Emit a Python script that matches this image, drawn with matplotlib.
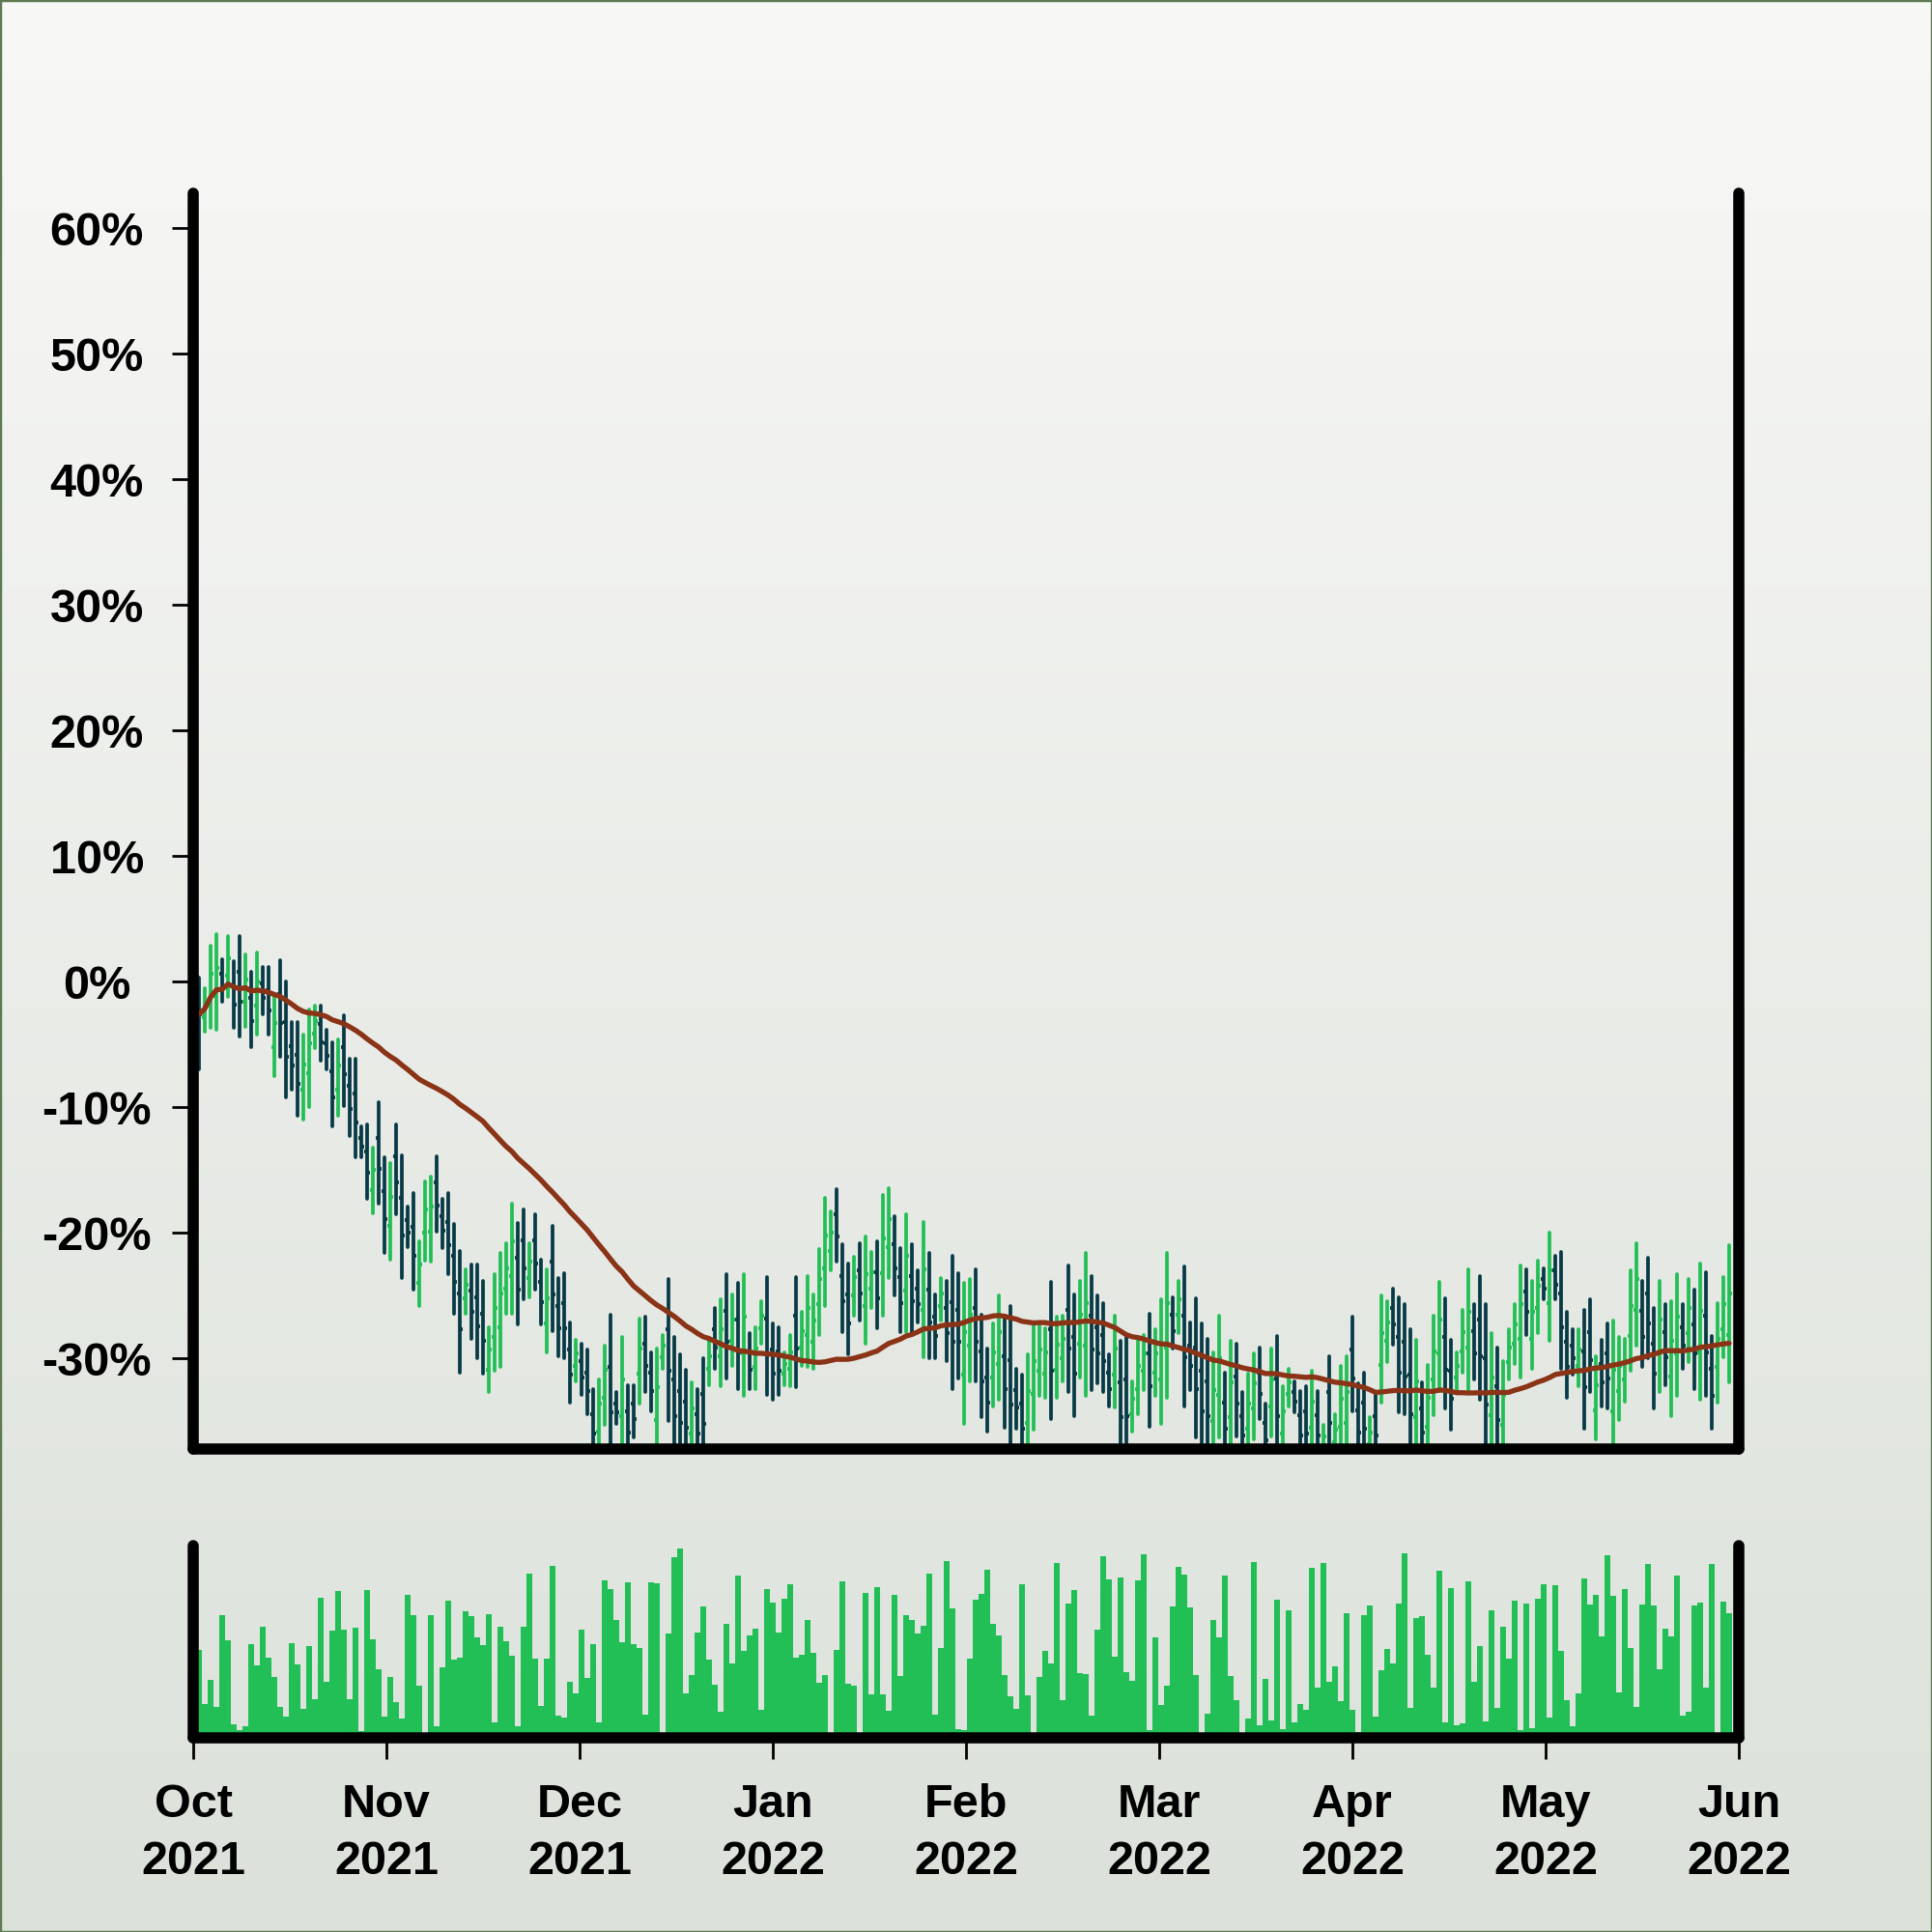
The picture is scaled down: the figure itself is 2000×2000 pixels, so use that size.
import matplotlib

matplotlib.use("Agg")
import matplotlib.pyplot as plt
import numpy as np
import pandas as pd
from matplotlib.patches import Rectangle

plt.rcParams["font.family"] = ["Liberation Sans", "DejaVu Sans"]
plt.rcParams["font.weight"] = "bold"

# ---------------------------------------------------------------------------
# data (percent change, one bar per session)
# ---------------------------------------------------------------------------
high = [0.3, -0.5, 2.9, 3.8, 1.8, 3.6, 1.6, 3.6, 2.2, 0.8, 2.3, 1.2, 1.2, -1.0, 1.7, 0.0, -3.2, -3.2, -4.2, -2.2,
        -1.9, -1.9, -3.8, -4.8, -4.6, -2.7, -6.1, -6.1, -11.5, -11.4, -13.2, -9.6, -14.0, -14.4, -11.4, -13.8, -17.9, -16.8, -20.7, -15.9,
        -15.5, -13.9, -17.3, -16.8, -19.3, -21.4, -22.9, -22.5, -22.5, -23.8, -27.5, -23.3, -21.6, -20.8, -17.7, -19.2, -18.1, -20.8, -18.5, -22.1,
        -22.9, -19.4, -23.6, -23.2, -27.1, -28.5, -28.8, -29.3, -32.4, -31.7, -29.0, -26.5, -32.7, -28.3, -32.1, -32.1, -26.8, -26.7, -29.5, -29.2,
        -28.1, -23.7, -28.3, -29.7, -30.9, -31.9, -32.4, -30.0, -28.5, -26.0, -25.3, -23.3, -24.9, -24.0, -23.3, -28.0, -27.5, -25.4, -23.5, -27.2,
        -27.5, -29.5, -28.1, -23.5, -26.3, -23.4, -24.9, -21.3, -17.2, -18.3, -16.5, -20.9, -22.4, -21.9, -20.8, -20.3, -21.5, -20.7, -17.0, -16.4,
        -18.7, -21.2, -18.5, -20.9, -23.0, -19.1, -21.6, -24.9, -23.6, -23.8, -21.8, -23.2, -24.0, -23.7, -22.9, -26.5, -29.2, -27.2, -25.0, -26.7,
        -25.8, -30.8, -31.3, -29.7, -27.3, -27.3, -27.6, -23.9, -26.7, -26.6, -22.6, -24.9, -23.8, -21.6, -23.4, -25.0, -25.6, -29.7, -26.6, -28.6,
        -28.3, -31.8, -28.6, -28.1, -26.4, -27.7, -25.3, -21.6, -25.1, -23.8, -22.7, -27.1, -25.2, -27.2, -28.4, -29.5, -26.6, -31.1, -28.6, -28.8,
        -32.7, -31.2, -29.6, -29.1, -33.6, -29.2, -28.2, -32.2, -30.8, -31.8, -32.6, -32.2, -31.0, -32.6, -35.3, -29.8, -34.4, -30.6, -29.8, -26.7,
        -32.0, -31.1, -34.7, -32.7, -25.0, -25.4, -24.4, -25.1, -25.7, -27.7, -28.5, -31.9, -30.5, -26.6, -23.9, -25.2, -28.5, -29.5, -26.1, -22.9,
        -25.7, -23.4, -25.7, -28.0, -29.1, -30.2, -27.7, -25.7, -22.6, -22.9, -23.8, -22.2, -22.8, -20.0, -21.8, -21.5, -26.3, -27.7, -27.7, -26.1,
        -25.3, -29.8, -28.5, -27.2, -27.0, -28.3, -28.4, -23.0, -20.8, -23.8, -22.0, -26.0, -23.8, -25.7, -25.4, -23.3, -25.7, -23.7, -24.5, -22.4,
        -23.1, -28.2, -25.6, -23.5, -21.0]
low = [-7.0, -4.0, -3.7, -3.8, -1.6, -1.2, -3.7, -4.4, -3.6, -5.2, -4.2, -2.6, -4.2, -7.5, -6.0, -9.2, -8.6, -10.7, -11.0, -10.0,
       -5.3, -6.3, -7.0, -11.5, -10.7, -9.9, -12.3, -14.0, -14.0, -17.3, -18.4, -17.7, -21.6, -22.1, -18.5, -23.6, -21.1, -24.5, -25.8, -22.2,
       -22.3, -19.9, -21.2, -23.3, -26.4, -31.1, -26.4, -28.4, -30.0, -31.2, -32.7, -31.0, -30.7, -26.4, -26.4, -27.3, -25.3, -25.1, -24.5, -27.3,
       -29.5, -27.8, -29.8, -30.0, -33.5, -31.8, -32.9, -34.4, -38.0, -38.0, -35.3, -38.5, -35.2, -38.0, -38.0, -36.3, -33.6, -32.7, -34.2, -38.0,
       -30.8, -35.0, -38.0, -38.0, -38.0, -38.0, -38.0, -38.0, -32.1, -30.8, -32.2, -31.6, -30.6, -32.4, -33.0, -32.4, -32.4, -28.8, -32.9, -33.3,
       -32.9, -32.1, -32.2, -32.3, -30.6, -30.7, -30.8, -28.1, -25.8, -23.0, -22.3, -27.9, -29.7, -26.6, -27.0, -28.8, -26.0, -27.6, -26.6, -23.6,
       -25.0, -27.9, -27.9, -27.9, -27.1, -29.9, -30.0, -30.0, -27.0, -30.2, -32.4, -31.6, -35.2, -31.8, -31.8, -34.7, -35.8, -33.8, -33.3, -35.5,
       -38.0, -35.6, -38.0, -38.0, -35.7, -33.0, -33.1, -34.8, -33.1, -31.8, -32.7, -34.6, -31.5, -33.0, -32.5, -32.0, -32.7, -33.8, -33.9, -38.0,
       -38.0, -35.8, -34.4, -32.5, -35.4, -33.0, -35.2, -33.1, -29.2, -28.0, -33.8, -32.5, -36.3, -38.0, -38.0, -38.0, -36.3, -38.0, -38.0, -36.2,
       -38.0, -38.0, -36.4, -34.8, -38.0, -36.2, -38.0, -38.0, -33.8, -34.3, -38.0, -38.0, -38.0, -38.0, -38.0, -38.0, -38.0, -38.0, -38.0, -34.2,
       -38.0, -38.0, -38.0, -38.0, -33.5, -30.3, -28.9, -34.3, -34.4, -38.0, -38.0, -38.0, -38.0, -34.5, -32.6, -34.0, -35.7, -32.6, -31.1, -32.5,
       -31.7, -33.3, -38.0, -38.0, -38.0, -38.0, -31.7, -30.4, -31.5, -28.1, -30.8, -28.0, -25.3, -28.6, -25.3, -30.8, -33.1, -31.3, -32.2, -35.6,
       -32.7, -36.4, -33.8, -34.0, -38.0, -34.9, -33.4, -31.0, -29.0, -30.7, -30.0, -34.0, -32.7, -32.1, -34.6, -33.0, -30.8, -30.3, -32.4, -33.3,
       -33.0, -35.6, -33.5, -29.9, -31.9]
open_ = [-0.5, -2.8, -1.4, -1.1, 0.6, 0.5, -0.3, 0.8, -1.6, -1.3, -1.9, -0.1, -0.7, -5.2, -1.0, -3.2, -5.1, -5.8, -8.6, -7.3,
         -4.1, -3.4, -4.9, -7.1, -8.6, -5.2, -8.3, -8.9, -12.4, -13.5, -16.6, -12.4, -16.7, -19.4, -13.9, -17.2, -19.0, -19.5, -24.0, -20.0,
         -19.9, -16.0, -18.7, -19.1, -21.8, -24.8, -25.2, -24.6, -25.1, -26.4, -30.9, -28.3, -27.5, -24.4, -23.4, -22.0, -20.6, -23.6, -20.6, -23.9,
         -27.2, -22.3, -25.8, -25.6, -29.3, -30.6, -30.2, -31.1, -34.4, -35.8, -33.1, -30.7, -33.6, -34.6, -34.2, -33.6, -31.2, -28.8, -31.1, -34.9,
         -29.9, -27.7, -31.7, -32.6, -33.4, -36.0, -34.4, -32.8, -30.8, -27.7, -29.8, -26.2, -28.6, -26.9, -29.6, -29.5, -30.7, -27.6, -26.8, -29.3,
         -29.4, -31.2, -30.8, -26.6, -29.1, -28.1, -28.7, -25.7, -22.8, -21.4, -18.5, -23.4, -24.9, -25.0, -23.0, -25.8, -24.4, -23.1, -23.2, -21.1,
         -20.9, -23.5, -24.6, -23.4, -24.4, -26.1, -24.5, -26.7, -25.8, -26.0, -25.5, -26.1, -31.3, -29.0, -26.0, -29.4, -31.5, -31.5, -30.4, -29.8,
         -30.1, -32.5, -33.6, -35.1, -32.8, -31.0, -31.2, -27.7, -30.9, -30.0, -26.1, -28.3, -28.8, -29.0, -26.6, -27.5, -28.1, -31.1, -31.3, -31.9,
         -31.7, -34.4, -32.4, -31.0, -29.6, -31.1, -31.7, -29.1, -26.5, -26.5, -26.6, -29.0, -29.1, -31.0, -31.8, -35.0, -32.9, -33.5, -34.7, -31.4,
         -34.6, -35.6, -34.0, -31.1, -35.1, -33.8, -31.6, -36.0, -32.8, -32.7, -34.5, -34.2, -35.5, -34.5, -37.1, -32.7, -36.7, -35.4, -35.1, -29.3,
         -34.1, -33.5, -36.8, -34.6, -30.5, -28.6, -26.0, -28.3, -28.7, -31.3, -34.7, -34.0, -35.4, -31.7, -29.6, -28.3, -31.0, -31.5, -29.4, -29.1,
         -27.8, -26.9, -30.0, -34.5, -32.2, -35.3, -30.3, -28.8, -28.4, -24.7, -28.4, -26.0, -23.7, -25.6, -23.0, -24.8, -28.7, -29.0, -30.6, -29.4,
         -27.9, -34.1, -30.4, -29.6, -34.2, -32.6, -31.7, -28.2, -26.1, -26.2, -24.8, -28.8, -29.6, -27.9, -31.4, -29.6, -27.5, -28.0, -27.3, -29.5,
         -26.6, -30.8, -30.7, -27.7, -28.1]
close = [-2.6, -1.7, 0.6, 1.1, -0.4, 1.9, -1.8, -1.6, 0.2, -3.1, 0.0, -1.3, -2.3, -3.3, -3.3, -6.0, -6.7, -8.1, -6.6, -4.9,
         -3.1, -4.8, -5.9, -9.2, -6.7, -7.4, -10.1, -11.2, -13.1, -15.2, -15.0, -14.9, -18.9, -17.1, -16.0, -20.2, -20.0, -21.8, -22.5, -18.1,
         -17.9, -17.8, -19.8, -21.0, -23.9, -27.7, -24.1, -26.3, -27.4, -28.6, -29.3, -26.0, -24.8, -22.8, -20.7, -24.5, -22.8, -22.3, -22.4, -25.5,
         -25.2, -24.9, -27.6, -27.6, -31.3, -29.6, -31.5, -32.6, -36.0, -33.6, -30.9, -34.3, -34.3, -31.7, -35.9, -34.8, -29.2, -30.6, -32.6, -32.3,
         -29.0, -31.0, -34.6, -35.1, -35.5, -34.0, -36.0, -35.2, -29.8, -29.1, -27.7, -28.7, -26.9, -29.5, -26.7, -30.9, -29.2, -26.6, -29.6, -31.2,
         -31.0, -30.4, -29.5, -29.2, -27.8, -26.0, -27.0, -23.7, -20.2, -20.0, -20.3, -25.4, -27.2, -23.5, -24.8, -23.3, -23.1, -25.2, -20.4, -18.9,
         -22.8, -25.6, -21.8, -25.4, -25.7, -22.9, -27.1, -28.2, -24.8, -28.0, -28.7, -28.7, -27.9, -26.5, -28.7, -31.8, -33.5, -29.5, -27.9, -32.4,
         -33.7, -33.9, -35.6, -32.6, -30.2, -29.3, -29.5, -31.0, -28.9, -28.4, -29.2, -31.2, -26.5, -25.6, -29.3, -29.6, -30.2, -32.4, -29.2, -34.7,
         -34.6, -33.2, -30.6, -29.6, -32.2, -29.6, -28.8, -25.6, -27.8, -25.3, -29.9, -30.6, -32.4, -34.2, -34.6, -32.5, -30.0, -35.6, -31.9, -33.6,
         -36.1, -33.6, -32.0, -32.8, -36.5, -31.7, -34.6, -34.2, -31.9, -33.4, -36.1, -36.0, -33.4, -36.1, -36.2, -35.1, -35.7, -33.2, -32.7, -31.6,
         -35.9, -35.6, -35.9, -36.1, -28.0, -27.1, -27.3, -31.1, -31.4, -34.4, -31.8, -35.9, -33.1, -29.4, -26.9, -30.9, -33.2, -30.6, -27.9, -26.3,
         -29.6, -29.8, -33.7, -31.5, -34.9, -32.9, -29.1, -27.3, -25.7, -26.3, -26.3, -24.2, -24.4, -23.0, -24.1, -27.5, -30.7, -30.0, -29.3, -32.3,
         -30.1, -32.1, -31.9, -31.6, -30.9, -30.6, -30.2, -25.8, -23.7, -28.3, -27.2, -31.2, -26.9, -29.9, -28.6, -26.7, -29.0, -26.0, -29.6, -26.2,
         -29.5, -33.0, -28.4, -25.7, -24.8]
volume = [91, 35, 60, 32, 127, 101, 14, 8, 12, 97, 75, 115, 83, 63, 32, 22, 98, 76, 30, 95,
          40, 145, 58, 111, 152, 112, 40, 114, 7, 153, 102, 71, 22, 63, 37, 20, 148, 127, 54, 3,
          127, 12, 73, 142, 81, 83, 131, 126, 104, 96, 128, 16, 115, 100, 85, 12, 115, 170, 82, 33,
          82, 178, 23, 21, 58, 46, 112, 62, 97, 16, 163, 154, 122, 99, 161, 97, 93, 24, 161, 160,
          4, 108, 187, 196, 46, 65, 109, 136, 81, 55, 27, 118, 77, 168, 90, 106, 113, 29, 154, 140,
          109, 144, 159, 83, 86, 122, 88, 57, 65, 2, 91, 162, 56, 54, 2, 150, 45, 156, 45, 28,
          148, 64, 127, 122, 108, 116, 170, 24, 93, 183, 134, 9, 8, 82, 143, 149, 174, 118, 106, 65,
          43, 30, 159, 44, 4, 63, 90, 77, 181, 39, 139, 153, 67, 66, 23, 112, 188, 164, 84, 166,
          68, 59, 163, 190, 8, 104, 34, 54, 136, 177, 169, 135, 65, 2, 25, 122, 104, 168, 64, 39,
          2, 20, 182, 13, 61, 18, 143, 9, 132, 16, 35, 29, 176, 52, 181, 58, 74, 38, 129, 29,
          6, 127, 137, 22, 70, 92, 77, 139, 191, 31, 124, 126, 86, 52, 173, 16, 155, 13, 15, 162,
          58, 95, 17, 132, 31, 115, 82, 142, 8, 139, 10, 144, 159, 21, 158, 90, 39, 12, 46, 165,
          138, 148, 105, 189, 147, 47, 154, 93, 32, 138, 180, 137, 71, 113, 105, 168, 23, 27, 137, 140,
          52, 180, 2, 141, 129]
month_labels = ["Oct\n2021", "Nov\n2021", "Dec\n2021", "Jan\n2022", "Feb\n2022",
                "Mar\n2022", "Apr\n2022", "May\n2022", "Jun\n2022"]
pct_ticks = [-30, -20, -10, 0, 10, 20, 30, 40, 50, 60]

UP = "#21bf55"
DOWN = "#073a46"
MA_COLOR = "#8a3316"
FONT_PT = 35

x = np.arange(len(close))
o = np.array(open_)
c = np.array(close)
colors = [UP if cc >= oo else DOWN for oo, cc in zip(o, c)]
ma = pd.Series(c).rolling(50, min_periods=1).mean()

fig = plt.figure(figsize=(20, 20), dpi=100)

# gradient background + thin border
bg = fig.add_axes([0, 0, 1, 1], zorder=-10)
grad = np.linspace(0, 1, 256)[:, None]
top_rgb = np.array([248, 248, 247]) / 255
bot_rgb = np.array([220, 225, 218]) / 255
img = top_rgb[None, None, :] * (1 - grad[:, :, None]) + bot_rgb[None, None, :] * grad[:, :, None]
bg.imshow(img, aspect="auto", extent=[0, 1, 0, 1])
bg.add_patch(Rectangle((0, 0), 1, 1, transform=bg.transAxes, fill=False,
                       edgecolor="#5d7b52", linewidth=2.5))
bg.set_xlim(0, 1); bg.set_ylim(0, 1)
bg.axis("off")

ax = fig.add_axes([0.1, 0.25, 0.8, 0.65])
axv = fig.add_axes([0.1, 0.1005, 0.8, 0.0995])
XLIM = (-1, 265.67)

# OHLC bars
LW = 2.7
hl = ax.vlines(x, low, high, colors=colors, linewidth=LW)
hl.set_capstyle("round")
ax.hlines(o, x - 0.45, x, colors=colors, linewidth=LW)
ax.hlines(c, x, x + 0.45, colors=colors, linewidth=LW)
ax.plot(x, ma, color=MA_COLOR, linewidth=3.8, solid_capstyle="round")

ax.set_xlim(*XLIM)
ax.set_ylim(-37.2, 62.77)
ax.set_yticks(pct_ticks)
ax.set_yticklabels([f"{t}%" for t in pct_ticks])
ax.set_xticks([])
ax.tick_params(axis="y", length=15.8, width=2, pad=56, labelsize=FONT_PT, colors="black")
for t in ax.get_yticklabels():
    t.set_ha("center")
    t.set_fontweight("bold")

# volume
axv.bar(x, volume, width=1.0, color=UP, linewidth=0)
axv.set_xlim(*XLIM)
axv.set_ylim(0, 199)
axv.set_yticks([])
tick_pos = np.linspace(XLIM[0], XLIM[1], len(month_labels))
axv.set_xticks(tick_pos)
axv.set_xticklabels(month_labels)
axv.tick_params(axis="x", length=15.8, width=2, pad=18, labelsize=FONT_PT, colors="black")
for t in axv.get_xticklabels():
    t.set_fontweight("bold")
    t.set_linespacing(1.4)

for a in (ax, axv):
    a.set_facecolor("none")
    a.spines["top"].set_visible(False)
    for side in ("left", "right", "bottom"):
        sp = a.spines[side]
        sp.set_linewidth(8.3)
        sp.set_color("black")
        sp.set_capstyle("round")

fig.savefig("out.png", dpi=100)
